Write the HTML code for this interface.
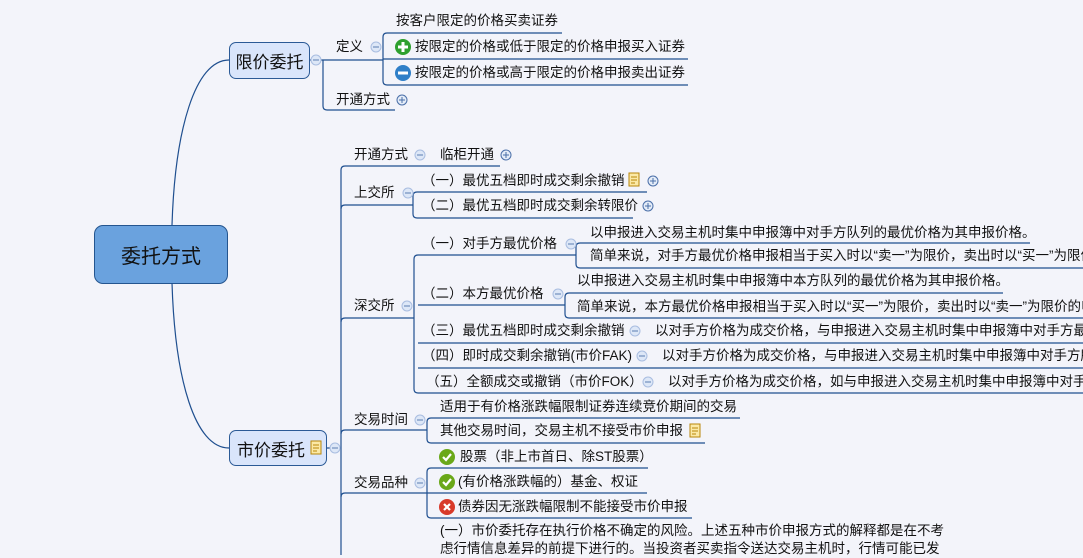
<!DOCTYPE html>
<html><head><meta charset="utf-8"><style>
html,body{margin:0;padding:0}
body{width:1083px;height:555px;overflow:hidden;background:#f3f4fa;position:relative;font-family:"Liberation Sans","Noto Sans CJK SC",sans-serif;color:#111}
.t{position:absolute;font-size:13.5px;line-height:18px;white-space:nowrap}
.box{position:absolute;border:1.5px solid #2b5a96;border-radius:7px;background:#d9e5fb;font-size:17px;display:flex;align-items:center;justify-content:center;box-sizing:border-box}
svg{position:absolute;left:0;top:0;z-index:2}
</style></head><body>
<div class="box" style="left:94px;top:225px;width:134px;height:59px;background:#6aa2de;border-color:#24558f;border-radius:9px;font-size:20px">委托方式</div>
<div class="box" style="left:229px;top:42px;width:81px;height:37px">限价委托</div>
<div class="box" style="left:229px;top:430px;width:98px;height:36px;justify-content:flex-start;padding-left:7px">市价委托</div>
<svg width="1083" height="555" fill="none" stroke="#1f4f8f" stroke-width="1.2">
<path d="M172,225 C175,130 195,60 229,60"/>
<path d="M172,283 C175,380 195,448 229,448"/>
<path d="M310,60 L323,60 M322,60 L382,60 M323,60 L323,106 Q323,110 327,110 L395,110"/>
<path d="M382,60 L383,60 M383,37 Q383,33 387,33 L562,33 M383,37 L383,81 Q383,85 387,85 L688,85 M383,59 L688,59"/>
<path d="M327,448 L341,448 M341,170 Q341,166 345,166 L500,166 M341,170 L341,555"/>
<path d="M341,209 Q341,205 345,205 L413,205 M413,196 Q413,192 417,192 L647,192 M413,196 L413,214 Q413,218 417,218 L633,218"/>
<path d="M341,322 Q341,318 345,318 L414,318 M414,259 Q414,255 418,255 L576,255 M414,259 L414,389 Q414,393 418,393 L1083,393"/>
<path d="M418,305 L565,305 M418,343 L1083,343 M418,368 L1083,368"/>
<path d="M576,247 Q576,243 580,243 L1030,243 M576,247 L576,264 Q576,268 580,268 L1083,268"/>
<path d="M565,297 Q565,293 569,293 L1003,293 M565,297 L565,314 Q565,318 569,318 L1083,318"/>
<path d="M341,434 Q341,430 345,430 L427,430 M427,422 Q427,418 431,418 L740,418 M427,422 L427,439 Q427,443 431,443 L705,443"/>
<path d="M341,497 Q341,493 345,493 L427,493 M427,472 Q427,468 431,468 L648,468 M427,472 L427,514 Q427,518 431,518 L692,518 M427,493 L647,493"/>
<g stroke="#a9bde0" fill="#dde7f7" stroke-width="1">
<circle cx="316" cy="60" r="5"/><circle cx="376" cy="47" r="5"/><circle cx="420" cy="155" r="5"/><circle cx="408" cy="193" r="5"/>
<circle cx="407" cy="306" r="5"/><circle cx="571" cy="244" r="5"/><circle cx="558" cy="294" r="5"/><circle cx="635" cy="331" r="5"/>
<circle cx="642" cy="356" r="5"/><circle cx="648" cy="382" r="5"/><circle cx="335" cy="448" r="5"/><circle cx="420" cy="420" r="5"/><circle cx="420" cy="483" r="5"/>
</g>
<g stroke="#5a7db0" stroke-width="1">
<path d="M373,47h6M417,155h6M405,193h6M404,306h6M568,244h6M555,294h6M632,331h6M639,356h6M645,382h6M332,448h6M417,420h6M417,483h6M313,60h6"/>
</g>
<g stroke="#4a6fa8" fill="#e4ecf8" stroke-width="1">
<circle cx="402" cy="100" r="5"/><circle cx="506" cy="155" r="5"/><circle cx="653" cy="181" r="5"/><circle cx="648" cy="206" r="5"/>
<path d="M399,100h6M402,97v6M503,155h6M506,152v6M650,181h6M653,178v6M645,206h6M648,203v6"/>
</g>
<circle cx="403" cy="47" r="8" fill="#2ea02e" stroke="none"/><path d="M398,47h10M403,42v10" stroke="#fff" stroke-width="3"/>
<circle cx="403" cy="73" r="8" fill="#2f7fc8" stroke="none"/><path d="M398,73h10" stroke="#fff" stroke-width="3"/>
<circle cx="447" cy="457" r="8" fill="#6aa819" stroke="none"/><path d="M443,457l3,3l5,-6" stroke="#fff" stroke-width="2.2"/>
<circle cx="447" cy="482" r="8" fill="#6aa819" stroke="none"/><path d="M443,482l3,3l5,-6" stroke="#fff" stroke-width="2.2"/>
<circle cx="447" cy="507" r="8" fill="#d83a2a" stroke="none"/><path d="M444,504l6,6M450,504l-6,6" stroke="#fff" stroke-width="2.2"/>
<g stroke="#b8860b" fill="#fbe9a6" stroke-width="1">
<rect x="629" y="173" width="10" height="13"/><rect x="311" y="441" width="10" height="13"/><rect x="690" y="424" width="10" height="13"/>
<path d="M631,177h6M631,180h6M631,183h4M313,445h6M313,448h6M313,451h4M692,428h6M692,431h6M692,434h4"/>
</g>
</svg>
<div class="t" style="left:336px;top:38px">定义</div>
<div class="t" style="left:396px;top:12px">按客户限定的价格买卖证券</div>
<div class="t" style="left:415px;top:38px">按限定的价格或低于限定的价格申报买入证券</div>
<div class="t" style="left:415px;top:64px">按限定的价格或高于限定的价格申报卖出证券</div>
<div class="t" style="left:336px;top:91px">开通方式</div>
<div class="t" style="left:354px;top:146px">开通方式</div>
<div class="t" style="left:440px;top:146px">临柜开通</div>
<div class="t" style="left:354px;top:184px">上交所</div>
<div class="t" style="left:422px;top:172px">（一）最优五档即时成交剩余撤销</div>
<div class="t" style="left:422px;top:197px">（二）最优五档即时成交剩余转限价</div>
<div class="t" style="left:354px;top:297px">深交所</div>
<div class="t" style="left:422px;top:235px">（一）对手方最优价格</div>
<div class="t" style="left:590px;top:224px">以申报进入交易主机时集中申报簿中对手方队列的最优价格为其申报价格。</div>
<div class="t" style="left:590px;top:247px">简单来说，对手方最优价格申报相当于买入时以“卖一”为限价，卖出时以“买一”为限价的申报</div>
<div class="t" style="left:422px;top:285px">（二）本方最优价格</div>
<div class="t" style="left:577px;top:272px">以申报进入交易主机时集中申报簿中本方队列的最优价格为其申报价格。</div>
<div class="t" style="left:577px;top:298px">简单来说，本方最优价格申报相当于买入时以“买一”为限价，卖出时以“卖一”为限价的申报</div>
<div class="t" style="left:422px;top:322px">（三）最优五档即时成交剩余撤销</div>
<div class="t" style="left:655px;top:322px">以对手方价格为成交价格，与申报进入交易主机时集中申报簿中对手方最优五个价位</div>
<div class="t" style="left:422px;top:347px">（四）即时成交剩余撤销(市价FAK)</div>
<div class="t" style="left:662px;top:347px">以对手方价格为成交价格，与申报进入交易主机时集中申报簿中对手方所有申报</div>
<div class="t" style="left:426px;top:373px">（五）全额成交或撤销（市价FOK）</div>
<div class="t" style="left:668px;top:373px">以对手方价格为成交价格，如与申报进入交易主机时集中申报簿中对手方所有申报</div>
<div class="t" style="left:354px;top:411px">交易时间</div>
<div class="t" style="left:440px;top:398px">适用于有价格涨跌幅限制证券连续竞价期间的交易</div>
<div class="t" style="left:440px;top:422px">其他交易时间，交易主机不接受市价申报</div>
<div class="t" style="left:354px;top:474px">交易品种</div>
<div class="t" style="left:460px;top:448px">股票（非上市首日、除ST股票）</div>
<div class="t" style="left:458px;top:473px">(有价格涨跌幅的）基金、权证</div>
<div class="t" style="left:458px;top:498px">债券因无涨跌幅限制不能接受市价申报</div>
<div class="t" style="left:440px;top:522px">(一）市价委托存在执行价格不确定的风险。上述五种市价申报方式的解释都是在不考</div>
<div class="t" style="left:440px;top:540px">虑行情信息差异的前提下进行的。当投资者买卖指令送达交易主机时，行情可能已发</div>
</body></html>
